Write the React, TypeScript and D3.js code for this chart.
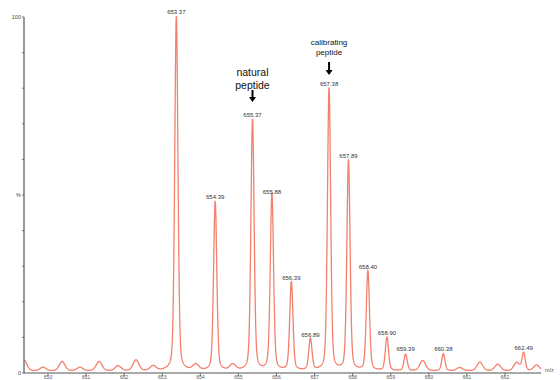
import React, { useRef, useEffect } from 'react';
import * as d3 from 'd3';

// labelled isotope peaks: m/z and relative intensity (%)
const peakMz = [653.37, 654.39, 655.37, 655.88, 656.39, 656.89, 657.38, 657.89, 658.40, 658.90, 659.39, 660.38, 662.49];
const peakInt = [99.5, 47.5, 70.5, 48.8, 24.8, 8.8, 79.3, 59.0, 27.9, 9.3, 4.6, 4.8, 5.0];

// small unlabelled bumps in the baseline
const bumpMz = [649.37, 649.87, 650.37, 650.84, 651.34, 651.84, 652.31, 652.76, 653.88, 654.85, 655.85, 659.84, 660.81, 661.34, 661.81, 662.31, 662.83];
const bumpInt = [3.0, 1.0, 2.6, 1.0, 2.6, 1.4, 3.0, 1.3, 1.6, 1.6, 1.0, 2.8, 0.9, 2.4, 1.8, 2.3, 1.6];

const xTicks = [650, 651, 652, 653, 654, 655, 656, 657, 658, 659, 660, 661, 662];
const mzRange = [649.38, 662.95];

const W = 560;
const H = 380;

const App = () => {
    const svgRef = useRef<SVGSVGElement>(null);

    useEffect(() => {
        const svg = d3.select(svgRef.current);
        svg.selectAll('*').remove();

        const x = d3.scaleLinear().domain([650, 662]).range([48, 505]);
        const y = d3.scaleLinear().domain([0, 100]).range([373, 17]);

        // pseudo-voigt peak shape
        const shape = (d: number, w: number, eta: number) =>
            eta / (1 + (d / w) ** 2) + (1 - eta) * Math.exp(-Math.LN2 * (d / w) ** 2);

        const profile: [number, number][] = [];
        for (let m = mzRange[0]; m <= mzRange[1]; m += 0.004) {
            let v = 0.6;
            peakMz.forEach((p, i) => { v += peakInt[i] * shape(m - p, 0.05, 0.3); });
            bumpMz.forEach((p, i) => { v += bumpInt[i] * shape(m - p, 0.09, 0.2); });
            profile.push([m, v]);
        }

        const axisColor = '#555';
        const font = '"Liberation Sans", Arial, sans-serif';

        // spectrum
        svg.append('path')
            .datum(profile)
            .attr('fill', 'none')
            .attr('stroke', '#f3806d')
            .attr('stroke-width', 1.3)
            .attr('d', d3.line<[number, number]>().x(d => x(d[0])).y(d => y(d[1])));

        // y axis
        svg.append('line')
            .attr('x1', 24).attr('x2', 24)
            .attr('y1', y(100)).attr('y2', y(0))
            .attr('stroke', axisColor).attr('stroke-width', 1.2);
        d3.range(0, 101, 10).forEach(t => {
            svg.append('line')
                .attr('x1', 22).attr('x2', 24)
                .attr('y1', y(t)).attr('y2', y(t))
                .attr('stroke', axisColor).attr('stroke-width', 0.8);
        });
        svg.append('text').attr('x', 21).attr('y', y(100) + 2).attr('text-anchor', 'end')
            .style('font-family', font).style('font-size', '5.5px').style('fill', '#444').text('100');
        svg.append('text').attr('x', 21).attr('y', y(50) + 2).attr('text-anchor', 'end')
            .style('font-family', font).style('font-size', '5.5px').style('fill', '#444').text('%');
        svg.append('text').attr('x', 21).attr('y', y(0) + 2).attr('text-anchor', 'end')
            .style('font-family', font).style('font-size', '5.5px').style('fill', '#444').text('0');

        // x axis
        svg.append('line')
            .attr('x1', 24).attr('x2', 541)
            .attr('y1', y(0)).attr('y2', y(0))
            .attr('stroke', axisColor).attr('stroke-width', 1.2);
        xTicks.forEach(t => {
            svg.append('line')
                .attr('x1', x(t)).attr('x2', x(t))
                .attr('y1', y(0)).attr('y2', y(0) + 3)
                .attr('stroke', axisColor).attr('stroke-width', 0.8);
            svg.append('text')
                .attr('x', x(t)).attr('y', 378.5)
                .attr('text-anchor', 'middle')
                .style('font-family', font).style('font-size', '5px').style('fill', '#555')
                .text(t);
        });
        svg.append('text').attr('x', 545).attr('y', y(0) - 1)
            .style('font-family', font).style('font-size', '5.5px').style('fill', '#555').text('m/z');

        // peak labels
        peakMz.forEach((p, i) => {
            svg.append('text')
                .attr('x', x(p)).attr('y', y(peakInt[i] + 0.6) - 3)
                .attr('text-anchor', 'middle')
                .style('font-family', font).style('font-size', '6px').style('fill', '#333')
                .text(p.toFixed(2));
        });

        // annotations
        const annotate = (mz: number, lines: string[], size: number, top: number, gap: number, a1: number, a2: number) => {
            lines.forEach((l, i) => {
                svg.append('text')
                    .attr('x', x(mz)).attr('y', top + i * gap)
                    .attr('text-anchor', 'middle')
                    .style('font-family', font).style('font-size', `${size}px`).style('fill', '#111')
                    .text(l);
            });
            svg.append('line')
                .attr('x1', x(mz)).attr('x2', x(mz))
                .attr('y1', a1).attr('y2', a2 - 4)
                .attr('stroke', '#000').attr('stroke-width', 2);
            svg.append('path')
                .attr('d', `M${x(mz) - 3.5},${a2 - 5}L${x(mz) + 3.5},${a2 - 5}L${x(mz)},${a2}Z`)
                .attr('fill', '#000');
        };
        annotate(655.37, ['natural', 'peptide'], 10.5, 76, 13, 90, 102);
        annotate(657.38, ['calibrating', 'peptide'], 8, 45, 10, 62, 75);
    }, []);

    return (
        <svg ref={svgRef} width={W} height={H}
            style={{ position: 'absolute', left: 0, top: 0, background: '#fff' }} />
    );
};

export default App;
